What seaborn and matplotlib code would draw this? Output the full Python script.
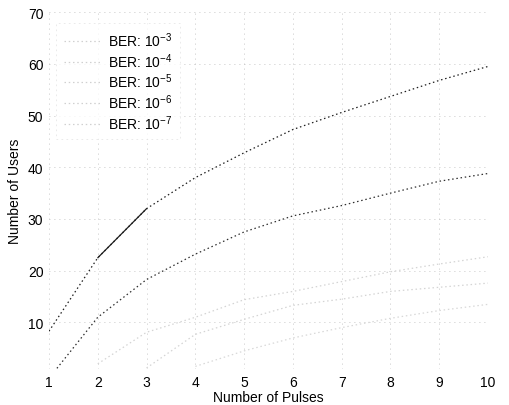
import numpy as np
import pandas as pd
import matplotlib
matplotlib.use("Agg")
import matplotlib.pyplot as plt
import seaborn as sns

pulses = [1, 2, 3, 4, 5, 6, 7, 8, 9, 10]
users_ber3 = [8.3, 22.5, 32.0, 38.0, 42.8, 47.3, 50.6, 53.7, 56.8, 59.5]
users_ber4 = [-0.8, 11.0, 18.3, 23.2, 27.5, 30.6, 32.6, 35.0, 37.3, 38.8]
users_ber5 = [np.nan, 2.0, 8.1, 11.0, 14.4, 16.0, 17.9, 19.8, 21.3, 22.7]
users_ber6 = [np.nan, np.nan, 1.2, 7.7, 10.6, 13.3, 14.5, 16.0, 16.8, 17.6]
users_ber7 = [np.nan, np.nan, np.nan, 1.5, 4.5, 7.0, 9.0, 10.8, 12.3, 13.5]
labels = ["BER: 10$^{-3}$", "BER: 10$^{-4}$", "BER: 10$^{-5}$",
          "BER: 10$^{-6}$", "BER: 10$^{-7}$"]
x_ticks = [1, 2, 3, 4, 5, 6, 7, 8, 9, 10]
y_ticks = [10, 20, 30, 40, 50, 60, 70]

sns.set_style("white")
plt.rcParams["font.family"] = ["Liberation Sans", "DejaVu Sans"]
plt.rcParams["mathtext.default"] = "regular"
plt.rcParams["text.color"] = "black"
plt.rcParams["axes.labelcolor"] = "black"
plt.rcParams["xtick.color"] = "black"
plt.rcParams["ytick.color"] = "black"

fig = plt.figure(figsize=(5.1, 4.06), dpi=100)
ax = fig.add_axes([0.096, 0.0887, 0.861, 0.879])

series = [users_ber3, users_ber4, users_ber5, users_ber6, users_ber7]
colors = ["#1e1e1e", "#2e2e2e", "#d4d4d4", "#d4d4d4", "#d8d8d8"]
for vals, lab, col in zip(series, labels, colors):
    df = pd.DataFrame({"Pulses": pulses, "Users": vals}).dropna()
    sns.lineplot(data=df, x="Pulses", y="Users", ax=ax, color=col,
                 linewidth=0.9, linestyle=(0, (1.2, 2.2)), label=lab)

# solid visible segment of the top curve
seg = pd.DataFrame({"Pulses": pulses[1:3], "Users": users_ber3[1:3]})
sns.lineplot(data=seg, x="Pulses", y="Users", ax=ax, color="#1e1e1e",
             linewidth=0.9, legend=False)

ax.set_xlim(1, 10)
ax.set_ylim(1, 70)
ax.set_xticks(x_ticks)
ax.set_yticks(y_ticks)
ax.tick_params(axis="both", labelsize=10, length=3, direction="in",
               color="#aaaaaa", labelcolor="black", pad=4)
ax.grid(True, color="#b5b5b5", linestyle=(0, (1, 5)), linewidth=0.6)
for s in ax.spines.values():
    s.set_visible(False)

ax.set_xlabel("Number of Pulses", fontsize=10, labelpad=1, color="black")
ax.set_ylabel("Number of Users", fontsize=10, labelpad=4, color="black")

leg = ax.legend(loc="upper left", fontsize=10, frameon=True,
                handlelength=2.6, handletextpad=0.6, labelspacing=0.15,
                borderpad=0.55, fancybox=False, bbox_to_anchor=(0.0, 0.99))
leg.get_frame().set_edgecolor("#e0e0e0")
leg.get_frame().set_linewidth(0.6)
leg.get_frame().set_linestyle((0, (2, 4)))
for h in leg.get_lines():
    h.set_color("#d0d0d0")
for t in leg.get_texts():
    t.set_color("black")

fig.savefig("out.png", dpi=100)
